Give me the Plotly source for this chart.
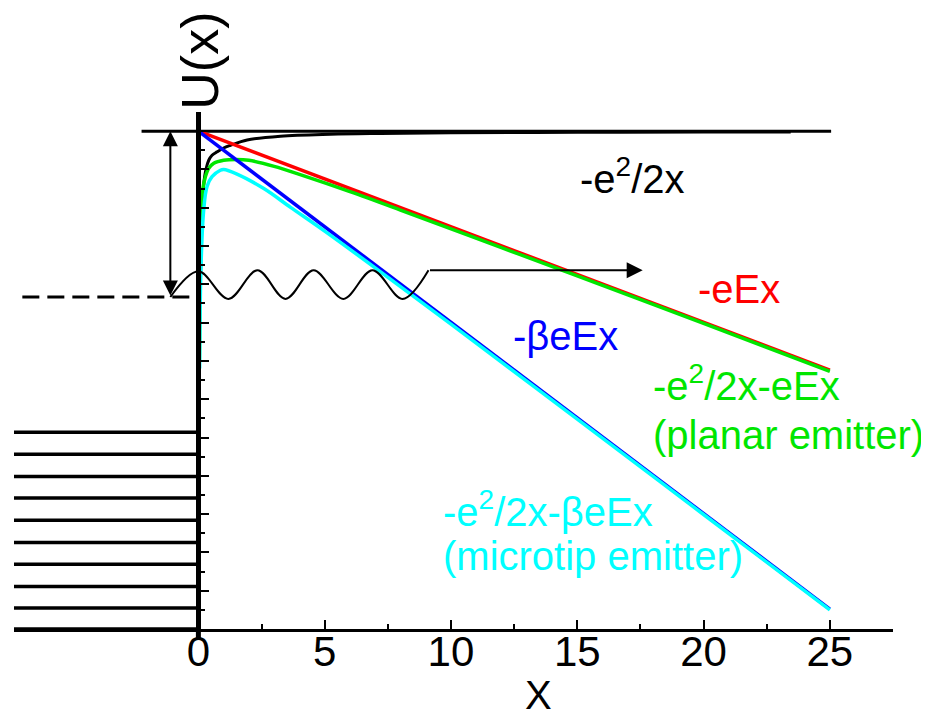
import plotly.graph_objects as go

# ---------------- data ----------------
# x in the chart's x units, U in y-tick units (vacuum level = 0, x axis at -13)
x_ticks = [0, 5, 10, 15, 20, 25]
x_tick_labels = ["0", "5", "10", "15", "20", "25"]
x_minor_ticks = [2.5, 7.5, 12.5, 17.5, 22.5, 27.5]

vacuum_x = [-2.25, 25.05]
vacuum_U = [0.0, 0.0]

image_x = [0.08, 0.13, 0.2, 0.3, 0.41, 0.54, 0.74, 1.0, 1.27, 1.93, 3.25, 5.23, 7.2, 10, 15, 20, 23.45]
image_U = [-4.0, -2.4, -1.46, -1.0, -0.76, -0.63, -0.54, -0.44, -0.37, -0.23, -0.13, -0.08, -0.06,
           -0.045, -0.03, -0.022, -0.02]

field_x = [0, 25]
field_U = [0, -6.24]

beta_field_x = [0, 25]
beta_field_U = [0, -12.48]

planar_x = [0.04, 0.07, 0.107, 0.18, 0.277, 0.41, 0.61, 1.0, 1.5, 2.0, 3.0, 4.0, 6.0, 8.0, 12, 16, 20, 25]
planar_U = [-6.0, -3.6, -2.06, -1.5, -1.19, -0.97, -0.84, -0.76, -0.74, -0.76, -0.92, -1.13, -1.58,
            -2.06, -3.04, -4.03, -5.02, -6.27]

tip_x = [0.05, 0.1, 0.21, 0.34, 0.54, 0.87, 1.0, 1.53, 2.59, 3.65, 5, 7, 10, 15, 20, 25]
tip_U = [-6.2, -3.6, -2.06, -1.45, -1.19, -1.02, -1.0, -1.12, -1.50, -1.99, -2.61, -3.57, -5.04,
         -7.52, -10.01, -12.50]

level_U = [-7.86, -8.44, -9.02, -9.58, -10.16, -10.74, -11.31, -11.89, -12.45, -13.0]
level_x = [-7.3, 0]

fermi_x = [-6.97, 0]
fermi_U = -4.33

wave_x = [-1.11, 0, 1.19, 2.34, 3.45, 4.56, 5.74, 6.89, 8.08, 9.11]
wave_U = [-4.33, -3.66, -4.38, -3.63, -4.38, -3.63, -4.38, -3.63, -4.38, -3.63]

escape_x = [9.11, 17.59]
escape_U = -3.63

barrier_x = -1.11
barrier_U = [0.0, -4.33]

x_range = [-7.3, 27.5]
y_range = [-13, 0.5]

FONT = "Liberation Sans, Arial, sans-serif"
GREEN = "#00e600"
CYAN = "#00ffff"


def ypaper(u):
    return (u - y_range[0]) / (y_range[1] - y_range[0])


fig = go.Figure()

# electron levels inside the metal
lx, ly = [], []
for u in level_U:
    lx += [level_x[0], level_x[1], None]
    ly += [u, u, None]
fig.add_trace(go.Scatter(x=lx, y=ly, mode="lines", line=dict(color="black", width=3.5)))

# Fermi level (dashed)
fig.add_trace(go.Scatter(x=fermi_x, y=[fermi_U] * len(fermi_x), mode="lines",
                         line=dict(color="black", width=3, dash="17px,8px")))

# vacuum level
fig.add_trace(go.Scatter(x=vacuum_x, y=vacuum_U, mode="lines", line=dict(color="black", width=3)))

# image potential
fig.add_trace(go.Scatter(x=image_x, y=image_U, mode="lines", line=dict(color="black", width=3, shape="spline")))

# -eEx
fig.add_trace(go.Scatter(x=field_x, y=field_U, mode="lines", line=dict(color="#ff0000", width=3.5)))
# planar emitter
fig.add_trace(go.Scatter(x=planar_x, y=planar_U, mode="lines", line=dict(color=GREEN, width=3.5, shape="spline")))
# -beta eEx
fig.add_trace(go.Scatter(x=beta_field_x, y=beta_field_U, mode="lines", line=dict(color="#0000ff", width=3.5)))
# microtip emitter
fig.add_trace(go.Scatter(x=tip_x, y=tip_U, mode="lines", line=dict(color=CYAN, width=3.5, shape="spline")))

# electron wave
fig.add_trace(go.Scatter(x=wave_x, y=wave_U, mode="lines",
                         line=dict(color="black", width=2, shape="spline", smoothing=1.0)))

annotations = [
    # escape arrow
    dict(x=escape_x[1], y=escape_U, ax=escape_x[0], ay=escape_U, xref="x", yref="y", axref="x", ayref="y",
         text="", showarrow=True, arrowhead=2, arrowsize=1.6, arrowwidth=2, arrowcolor="black", standoff=0),
    # work function double arrow
    dict(x=barrier_x, y=barrier_U[0], ax=barrier_x, ay=barrier_U[1], xref="x", yref="y", axref="x", ayref="y",
         text="", showarrow=True, arrowhead=2, startarrowhead=2, arrowside="end+start",
         arrowsize=1.5, startarrowsize=1.5, arrowwidth=2, arrowcolor="black", standoff=0, startstandoff=0),
    dict(x=0.08, y=ypaper(1.85), xref="x", yref="paper", text="U(x)", textangle=-90, showarrow=False,
         xanchor="center", yanchor="middle",
         font=dict(family=FONT, size=52, color="black")),
    dict(x=17.2, y=-1.17, xref="x", yref="y", text="-e<sup>2</sup>/2x", showarrow=False,
         font=dict(family=FONT, size=40, color="black")),
    dict(x=21.4, y=-4.13, xref="x", yref="y", text="-eEx", showarrow=False,
         font=dict(family=FONT, size=40, color="#ff0000")),
    dict(x=14.54, y=-5.35, xref="x", yref="y", text="-βeEx", showarrow=False,
         font=dict(family=FONT, size=40, color="#0000ff")),
    dict(x=17.9, y=-6.58, xref="x", yref="y", text="-e<sup>2</sup>/2x-eEx", showarrow=False, xanchor="left",
         font=dict(family=FONT, size=40, color=GREEN)),
    dict(x=17.9, y=-7.94, xref="x", yref="y", text="(planar emitter)", showarrow=False, xanchor="left",
         font=dict(family=FONT, size=40, color=GREEN)),
    dict(x=9.59, y=-9.87, xref="x", yref="y", text="-e<sup>2</sup>/2x-βeEx", showarrow=False, xanchor="left",
         font=dict(family=FONT, size=40, color=CYAN)),
    dict(x=9.59, y=-11.10, xref="x", yref="y", text="(microtip emitter)", showarrow=False, xanchor="left",
         font=dict(family=FONT, size=40, color=CYAN)),
    dict(x=13.47, y=ypaper(-14.72), xref="x", yref="paper", text="X", showarrow=False,
         xanchor="center", yanchor="middle",
         font=dict(family=FONT, size=40, color="black")),
]

ypos = (0 - x_range[0]) / (x_range[1] - x_range[0])

fig.update_layout(
    width=921, height=712,
    margin=dict(l=6, r=36, t=104, b=91),
    paper_bgcolor="white", plot_bgcolor="white",
    showlegend=False,
    annotations=annotations,
    xaxis=dict(range=x_range, showgrid=False, zeroline=False, showline=True, linecolor="black", linewidth=2.5,
               ticks="inside", ticklen=9, tickwidth=2, tickcolor="black",
               tickmode="array", tickvals=x_ticks, ticktext=x_tick_labels,
               ticklabelstandoff=-16,
               tickfont=dict(family=FONT, size=42, color="black"),
               minor=dict(tickmode="array", tickvals=x_minor_ticks, ticks="inside", ticklen=5,
                          tickwidth=2, tickcolor="black", showgrid=False)),
    yaxis=dict(range=y_range, anchor="free", position=ypos, showgrid=False, zeroline=False,
               showline=True, linecolor="black", linewidth=5,
               ticks="inside", ticklen=8, tickwidth=2, tickcolor="black", tick0=0, dtick=1,
               showticklabels=False,
               minor=dict(ticks="inside", ticklen=4, tickwidth=2, tickcolor="black", dtick=0.5,
                          tick0=0, showgrid=False)),
    shapes=[dict(type="line", xref="paper", yref="paper", x0=ypos, x1=ypos, y0=0, y1=-0.02,
                 line=dict(color="black", width=5))],
)

fig.write_html("out.html")
